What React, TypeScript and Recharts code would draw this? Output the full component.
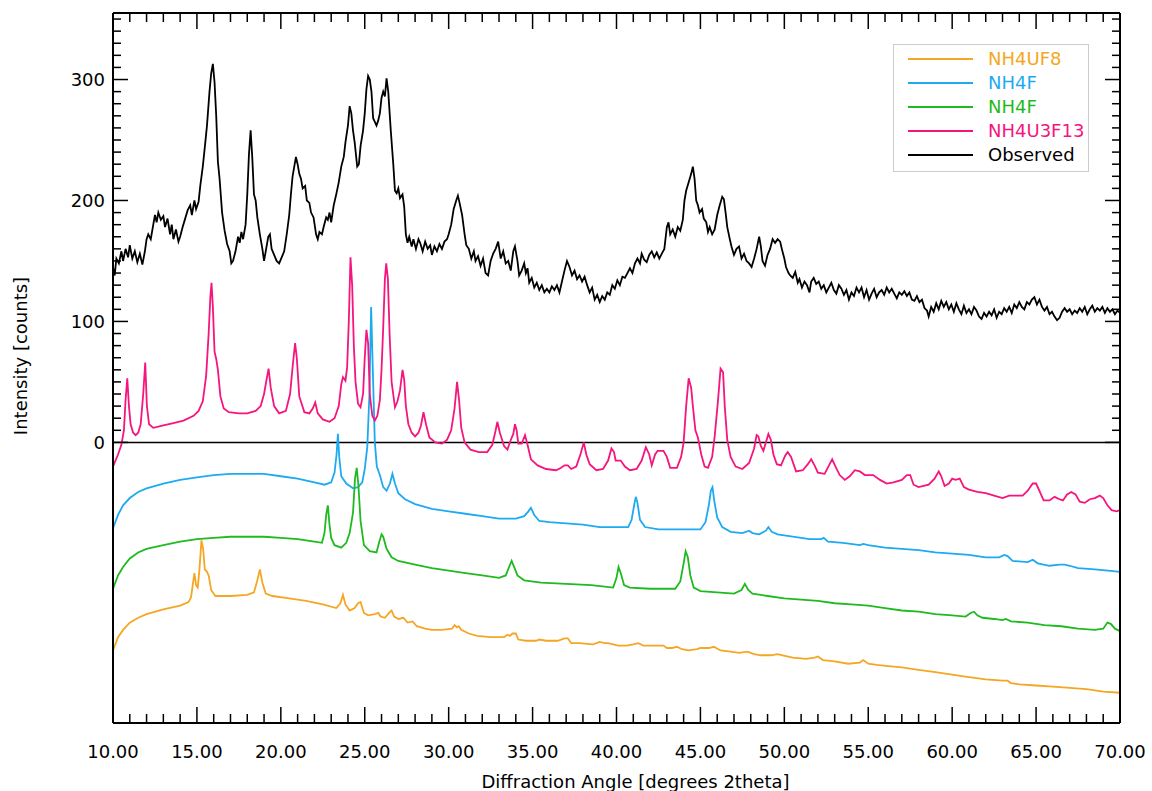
import React from "react";
import { Legend, Line, LineChart, ReferenceLine, XAxis, YAxis } from "recharts";

type Pt = [number, number];

const FONT = "DejaVu Sans";

// series labels and colours (legend order)
const seriesNames = ["NH4UF8", "NH4F", "NH4F", "NH4U3F13", "Observed"];
const seriesColors = ["#f5a623", "#1daaf1", "#1fba1f", "#f5157d", "#000000"];

const xTicks: number[] = [];
for (let v = 10; v <= 70; v += 1) xTicks.push(v);
const yTicks: number[] = [];
for (let v = 0; v <= 350; v += 10) yTicks.push(v);

const observedPts: Pt[] = [
  [10.0, 145], [10.1, 138], [10.2, 152], [10.35, 148], [10.5, 158], [10.6, 150], [10.75, 160], [10.9, 153],
  [11.0, 163], [11.15, 152], [11.3, 158], [11.45, 149], [11.6, 156], [11.75, 147], [11.9, 158], [12.0, 168],
  [12.1, 172], [12.25, 168], [12.4, 180], [12.5, 188], [12.6, 182], [12.7, 190], [12.85, 184], [13.0, 187],
  [13.1, 178], [13.25, 185], [13.4, 172], [13.5, 180], [13.6, 168], [13.75, 176], [13.9, 166], [14.0, 170],
  [14.15, 178], [14.3, 185], [14.45, 192], [14.6, 196], [14.7, 188], [14.85, 200], [14.95, 193], [15.1, 199],
  [15.2, 212], [15.35, 228], [15.5, 248], [15.6, 262], [15.75, 290], [15.85, 305], [15.95, 313], [16.05, 298],
  [16.15, 270], [16.25, 232], [16.35, 218], [16.5, 190], [16.65, 175], [16.8, 164], [16.95, 158], [17.05, 148],
  [17.15, 150], [17.3, 158], [17.45, 170], [17.55, 165], [17.65, 174], [17.75, 168], [17.9, 180], [18.0, 205],
  [18.1, 238], [18.2, 258], [18.3, 235], [18.4, 205], [18.5, 200], [18.6, 186], [18.75, 172], [18.9, 160],
  [19.0, 150], [19.1, 158], [19.25, 170], [19.35, 172], [19.45, 160], [19.6, 155], [19.75, 150], [19.9, 148],
  [20.05, 153], [20.2, 158], [20.35, 172], [20.5, 188], [20.6, 205], [20.7, 220], [20.8, 228], [20.9, 236],
  [21.0, 230], [21.1, 222], [21.2, 218], [21.3, 210], [21.45, 212], [21.55, 200], [21.7, 198], [21.8, 190],
  [21.95, 186], [22.1, 172], [22.2, 168], [22.3, 174], [22.45, 172], [22.55, 178], [22.7, 186], [22.8, 184],
  [22.9, 190], [23.0, 182], [23.15, 196], [23.3, 205], [23.45, 215], [23.6, 228], [23.75, 236], [23.85, 248],
  [24.0, 262], [24.1, 278], [24.2, 272], [24.3, 258], [24.4, 248], [24.55, 228], [24.65, 230], [24.75, 245],
  [24.9, 258], [25.0, 272], [25.1, 292], [25.2, 303], [25.3, 300], [25.4, 290], [25.5, 268], [25.6, 265],
  [25.7, 262], [25.8, 266], [25.9, 272], [26.0, 285], [26.1, 290], [26.2, 286], [26.3, 301], [26.4, 290],
  [26.55, 258], [26.7, 230], [26.8, 208], [26.9, 206], [27.0, 210], [27.1, 202], [27.25, 205], [27.35, 195],
  [27.45, 172], [27.55, 165], [27.65, 170], [27.8, 162], [27.9, 168], [28.05, 160], [28.2, 168], [28.3, 165],
  [28.45, 158], [28.6, 166], [28.75, 160], [28.9, 163], [29.0, 155], [29.15, 162], [29.3, 158], [29.45, 164],
  [29.6, 160], [29.75, 166], [29.9, 168], [30.0, 172], [30.15, 180], [30.3, 193], [30.45, 200], [30.55, 204],
  [30.65, 198], [30.8, 188], [30.95, 172], [31.05, 163], [31.2, 160], [31.35, 152], [31.5, 158], [31.6, 150],
  [31.75, 154], [31.9, 146], [32.05, 152], [32.2, 140], [32.35, 138], [32.5, 150], [32.65, 156], [32.8, 160],
  [32.95, 166], [33.1, 152], [33.25, 158], [33.4, 148], [33.55, 150], [33.7, 142], [33.85, 158], [33.95, 162],
  [34.1, 150], [34.2, 138], [34.35, 142], [34.5, 148], [34.6, 140], [34.7, 144], [34.8, 132], [34.95, 136],
  [35.1, 128], [35.25, 132], [35.4, 126], [35.55, 130], [35.7, 124], [35.85, 127], [36.0, 124], [36.15, 129],
  [36.3, 126], [36.45, 130], [36.6, 124], [36.75, 133], [36.9, 142], [37.05, 150], [37.2, 145], [37.35, 138],
  [37.5, 142], [37.65, 135], [37.8, 138], [37.95, 133], [38.1, 137], [38.25, 130], [38.4, 124], [38.55, 128],
  [38.7, 118], [38.85, 122], [39.0, 116], [39.15, 121], [39.3, 118], [39.45, 124], [39.6, 122], [39.75, 130],
  [39.9, 127], [40.05, 134], [40.2, 130], [40.35, 137], [40.5, 136], [40.65, 140], [40.8, 144], [40.95, 140],
  [41.1, 148], [41.25, 152], [41.4, 148], [41.5, 156], [41.65, 151], [41.8, 149], [41.95, 155], [42.1, 158],
  [42.25, 153], [42.4, 157], [42.55, 152], [42.7, 156], [42.85, 160], [43.0, 178], [43.1, 182], [43.2, 172],
  [43.35, 176], [43.5, 170], [43.65, 178], [43.8, 175], [43.95, 184], [44.05, 200], [44.15, 208], [44.3, 215],
  [44.45, 222], [44.55, 228], [44.65, 218], [44.75, 200], [44.85, 196], [44.95, 190], [45.1, 193], [45.2, 185],
  [45.35, 182], [45.45, 174], [45.55, 178], [45.7, 172], [45.85, 176], [46.0, 188], [46.15, 196], [46.3, 203],
  [46.4, 201], [46.5, 190], [46.6, 178], [46.75, 168], [46.85, 162], [47.0, 155], [47.15, 160], [47.3, 162],
  [47.45, 152], [47.6, 156], [47.75, 150], [47.9, 148], [48.05, 145], [48.2, 152], [48.35, 160], [48.5, 170],
  [48.6, 162], [48.7, 150], [48.85, 146], [49.0, 155], [49.15, 160], [49.3, 168], [49.45, 165], [49.6, 168],
  [49.75, 166], [49.85, 160], [50.0, 152], [50.1, 145], [50.25, 140], [50.35, 138], [50.5, 136], [50.65, 141],
  [50.8, 132], [50.9, 135], [51.05, 128], [51.2, 133], [51.35, 130], [51.5, 124], [51.6, 133], [51.75, 136],
  [51.9, 131], [52.05, 133], [52.2, 127], [52.35, 130], [52.5, 124], [52.65, 128], [52.8, 132], [52.95, 126],
  [53.1, 123], [53.25, 130], [53.4, 127], [53.55, 122], [53.7, 126], [53.85, 118], [54.0, 124], [54.15, 121],
  [54.3, 128], [54.45, 124], [54.6, 128], [54.75, 120], [54.9, 126], [55.05, 118], [55.2, 123], [55.35, 127],
  [55.5, 120], [55.65, 124], [55.8, 126], [55.95, 122], [56.1, 128], [56.25, 124], [56.4, 127], [56.55, 123],
  [56.7, 119], [56.85, 124], [57.0, 122], [57.15, 125], [57.3, 121], [57.45, 124], [57.6, 118], [57.75, 117],
  [57.9, 121], [58.05, 116], [58.2, 118], [58.35, 111], [58.5, 109], [58.6, 104], [58.75, 112], [58.9, 108],
  [59.05, 115], [59.2, 110], [59.35, 117], [59.5, 112], [59.65, 116], [59.8, 110], [59.95, 114], [60.1, 108],
  [60.25, 115], [60.4, 110], [60.55, 106], [60.7, 113], [60.85, 107], [61.0, 110], [61.15, 106], [61.3, 112],
  [61.45, 109], [61.6, 104], [61.75, 102], [61.9, 107], [62.05, 104], [62.2, 108], [62.35, 105], [62.5, 110],
  [62.65, 103], [62.8, 108], [62.95, 106], [63.1, 111], [63.25, 108], [63.4, 112], [63.55, 107], [63.7, 114],
  [63.85, 111], [64.0, 116], [64.15, 112], [64.3, 110], [64.45, 116], [64.6, 114], [64.75, 118], [64.9, 120],
  [65.05, 114], [65.2, 118], [65.35, 112], [65.5, 109], [65.65, 112], [65.8, 106], [65.95, 108], [66.1, 104],
  [66.25, 101], [66.4, 103], [66.55, 108], [66.7, 111], [66.85, 108], [67.0, 110], [67.15, 106], [67.3, 109],
  [67.45, 107], [67.6, 111], [67.75, 108], [67.9, 112], [68.05, 106], [68.2, 110], [68.35, 113], [68.5, 108],
  [68.65, 111], [68.8, 109], [68.95, 112], [69.1, 107], [69.25, 111], [69.4, 108], [69.55, 110], [69.7, 106],
  [69.85, 109], [70.0, 107],
];

const nh4u3f13Pts: Pt[] = [
  [10.0, -20], [10.3, -10], [10.5, -2], [10.65, 10], [10.75, 35], [10.85, 53], [10.95, 30], [11.05, 15],
  [11.2, 8], [11.35, 6], [11.5, 8], [11.65, 15], [11.8, 40], [11.92, 66], [12.02, 30], [12.15, 15],
  [12.4, 12], [13.0, 14], [13.6, 16], [14.2, 18], [14.8, 22], [15.1, 26], [15.35, 34], [15.55, 55],
  [15.7, 90], [15.8, 120], [15.87, 132], [15.95, 112], [16.05, 75], [16.15, 69], [16.25, 60], [16.4, 38],
  [16.6, 28], [16.9, 25], [17.5, 24], [18.0, 24], [18.5, 26], [18.8, 30], [19.0, 40], [19.15, 52],
  [19.27, 61], [19.4, 45], [19.6, 30], [19.9, 24], [20.3, 26], [20.55, 40], [20.72, 65], [20.85, 82],
  [20.95, 70], [21.1, 38], [21.4, 25], [21.7, 24], [21.9, 28], [22.05, 33], [22.2, 24], [22.5, 19],
  [22.9, 17], [23.2, 20], [23.45, 30], [23.6, 48], [23.7, 54], [23.85, 51], [23.95, 62], [24.05, 100],
  [24.15, 153], [24.25, 130], [24.35, 80], [24.45, 50], [24.6, 32], [24.75, 29], [24.9, 40], [25.0, 70],
  [25.1, 93], [25.2, 82], [25.3, 40], [25.45, 22], [25.6, 18], [25.75, 22], [25.9, 35], [26.0, 60],
  [26.1, 95], [26.2, 135], [26.28, 148], [26.38, 135], [26.48, 90], [26.6, 50], [26.8, 29], [26.95, 34],
  [27.1, 43], [27.25, 60], [27.35, 52], [27.45, 30], [27.6, 15], [27.8, 8], [28.0, 5], [28.2, 8],
  [28.35, 14], [28.5, 25], [28.65, 15], [28.85, 4], [29.2, 0], [29.6, -1], [29.9, 2], [30.15, 10],
  [30.35, 28], [30.5, 50], [30.62, 35], [30.75, 12], [30.95, 0], [31.3, -6], [31.8, -8], [32.3, -8],
  [32.6, -2], [32.8, 10], [32.9, 17], [33.05, 8], [33.3, -3], [33.5, -6], [33.7, 2], [33.85, 7],
  [33.95, 15], [34.05, 10], [34.15, -1], [34.35, -1], [34.55, 6], [34.7, -2], [34.9, -14], [35.3, -19],
  [35.8, -22], [36.4, -23], [36.7, -21], [36.9, -19], [37.1, -19], [37.3, -22], [37.6, -20], [37.85, -10],
  [38.05, 0], [38.2, -10], [38.4, -18], [38.8, -23], [39.2, -22], [39.5, -15], [39.7, -5], [39.85, -8],
  [39.95, -15], [40.25, -15], [40.5, -20], [40.8, -23], [41.2, -22], [41.5, -15], [41.75, -4], [41.95, -10],
  [42.1, -19], [42.3, -10], [42.45, -7], [42.8, -7], [43.0, -12], [43.2, -21], [43.6, -21], [43.85, -12],
  [44.0, 0], [44.15, 30], [44.3, 53], [44.45, 45], [44.55, 30], [44.7, 10], [44.85, 4], [45.05, -10],
  [45.25, -20], [45.45, -21], [45.7, -12], [45.85, 5], [46.05, 35], [46.2, 61], [46.35, 58], [46.45, 30],
  [46.6, 2], [46.8, -12], [47.1, -20], [47.5, -22], [47.9, -17], [48.2, -5], [48.35, 6], [48.45, 5],
  [48.6, -3], [48.75, -7], [48.9, 0], [49.05, 7], [49.2, 2], [49.35, -10], [49.55, -18], [49.8, -19],
  [50.05, -11], [50.2, -8], [50.4, -12], [50.7, -24], [51.1, -23], [51.4, -18], [51.6, -14], [51.8, -19],
  [52.0, -25], [52.4, -26], [52.7, -18], [52.85, -14], [53.05, -20], [53.3, -27], [53.6, -31], [53.9, -28],
  [54.2, -23], [54.5, -24], [54.8, -27], [55.3, -27], [55.7, -31], [56.1, -34], [56.5, -33], [57.0, -31],
  [57.3, -27], [57.5, -27], [57.7, -35], [58.0, -37], [58.6, -35], [58.95, -30], [59.2, -24], [59.35, -28],
  [59.55, -36], [59.8, -34], [60.0, -30], [60.2, -31], [60.45, -30], [60.7, -37], [61.0, -39], [61.5, -41],
  [62.0, -42], [62.5, -44], [63.0, -46], [63.4, -44], [63.8, -44], [64.2, -44], [64.5, -40], [64.8, -34],
  [65.0, -34], [65.2, -40], [65.45, -48], [65.8, -48], [66.1, -45], [66.4, -47], [66.6, -48], [66.85, -43],
  [67.1, -41], [67.35, -43], [67.6, -49], [67.9, -50], [68.2, -47], [68.5, -46], [68.8, -44], [69.0, -46],
  [69.25, -52], [69.5, -56], [69.8, -57], [70.0, -56],
];

const nh4fBluePts: Pt[] = [
  [10.0, -71], [10.3, -60], [10.6, -52], [11.0, -46], [11.5, -41], [12.0, -38], [13.0, -34], [14.0, -31],
  [15.0, -29], [16.0, -27], [17.0, -26], [18.0, -26], [19.0, -26], [20.0, -28], [21.0, -30], [22.0, -33],
  [22.6, -35], [23.0, -33], [23.2, -25], [23.32, -10], [23.4, 7], [23.48, -12], [23.6, -28], [23.9, -34],
  [24.3, -38], [24.6, -37], [24.85, -33], [25.0, -22], [25.15, -4], [25.28, 40], [25.38, 112], [25.48, 60],
  [25.6, 0], [25.72, -20], [25.9, -27], [26.1, -37], [26.3, -40], [26.5, -34], [26.65, -26], [26.8, -34],
  [27.0, -42], [27.4, -47], [28.0, -51], [29.0, -55], [30.0, -57], [31.0, -59], [32.0, -61], [33.0, -63],
  [34.0, -63], [34.5, -61], [34.75, -57], [34.9, -54], [35.1, -60], [35.4, -65], [36.0, -66], [37.0, -67],
  [38.0, -68], [39.0, -70], [40.0, -70], [40.7, -70], [40.9, -64], [41.05, -52], [41.15, -45], [41.25, -50],
  [41.4, -64], [41.7, -70], [42.5, -72], [43.5, -72], [44.5, -72], [45.0, -72], [45.3, -66], [45.5, -52],
  [45.62, -40], [45.72, -37], [45.82, -48], [46.0, -62], [46.3, -70], [46.8, -74], [47.5, -75], [47.9, -73],
  [48.1, -75], [48.5, -76], [48.9, -73], [49.05, -70], [49.25, -74], [49.6, -76], [50.5, -78], [51.5, -80],
  [52.2, -80], [52.35, -79], [52.6, -82], [53.5, -83], [54.5, -85], [54.7, -84], [55.0, -85], [56.0, -87],
  [57.0, -88], [58.0, -89], [59.0, -91], [60.0, -92], [61.0, -93], [62.0, -95], [62.8, -95], [63.1, -93],
  [63.3, -94], [63.6, -98], [64.5, -99], [64.8, -97], [65.1, -100], [65.8, -102], [66.4, -101], [66.7, -101],
  [67.0, -102], [67.5, -104], [68.5, -105], [69.3, -106], [70.0, -107],
];

const nh4fGreenPts: Pt[] = [
  [10.0, -121], [10.3, -110], [10.6, -103], [11.0, -96], [11.5, -91], [12.0, -88], [13.0, -85], [14.0, -82],
  [15.0, -80], [16.0, -79], [17.0, -78], [18.0, -78], [19.0, -78], [20.0, -79], [21.0, -80], [22.0, -82],
  [22.45, -83], [22.6, -75], [22.7, -60], [22.8, -52], [22.9, -68], [23.0, -79], [23.2, -85], [23.6, -87],
  [23.9, -83], [24.1, -75], [24.3, -58], [24.42, -30], [24.52, -21], [24.62, -35], [24.75, -65], [24.95, -85],
  [25.3, -90], [25.7, -91], [25.85, -83], [26.0, -76], [26.1, -78], [26.3, -88], [26.6, -95], [27.0, -98],
  [28.0, -101], [29.0, -104], [30.0, -106], [31.0, -108], [32.0, -110], [33.0, -112], [33.4, -110], [33.6, -103],
  [33.75, -98], [33.9, -103], [34.1, -110], [34.5, -114], [35.5, -116], [37.0, -117], [38.5, -118], [39.8, -120],
  [40.0, -112], [40.12, -103], [40.25, -108], [40.45, -118], [40.8, -120], [42.0, -121], [43.5, -121], [43.8, -115],
  [44.0, -100], [44.12, -90], [44.25, -95], [44.4, -110], [44.6, -120], [45.0, -123], [46.0, -124], [47.0, -125],
  [47.45, -122], [47.65, -117], [47.85, -122], [48.1, -125], [49.0, -127], [50.0, -129], [51.0, -130], [52.0, -131],
  [53.0, -133], [54.0, -134], [55.0, -135], [56.0, -137], [57.0, -139], [58.0, -140], [59.0, -142], [60.0, -143],
  [60.8, -144], [61.1, -141], [61.3, -140], [61.5, -143], [61.8, -145], [62.5, -146], [63.0, -147], [63.2, -146],
  [63.5, -148], [64.5, -149], [65.5, -151], [66.5, -152], [67.5, -154], [68.5, -155], [69.0, -154], [69.25, -149],
  [69.45, -150], [69.7, -154], [70.0, -156],
];

const nh4uf8Pts: Pt[] = [
  [10.0, -172], [10.3, -161], [10.6, -155], [11.0, -149], [11.5, -145], [12.0, -142], [13.0, -138], [14.0, -135],
  [14.5, -132], [14.65, -128], [14.75, -118], [14.85, -108], [14.95, -118], [15.05, -120], [15.15, -105], [15.27, -81],
  [15.37, -88], [15.47, -105], [15.6, -107], [15.7, -110], [15.85, -122], [16.1, -127], [17.0, -127], [18.0, -126],
  [18.4, -124], [18.6, -114], [18.75, -105], [18.9, -116], [19.1, -125], [19.5, -127], [20.5, -129], [21.5, -131],
  [22.5, -134], [23.3, -137], [23.55, -133], [23.7, -126], [23.85, -134], [24.1, -139], [24.4, -137], [24.6, -133],
  [24.75, -132], [24.95, -141], [25.2, -143], [25.6, -142], [25.8, -141], [25.95, -144], [26.2, -145], [26.45, -141],
  [26.6, -139], [26.75, -144], [27.0, -146], [27.3, -145], [27.55, -149], [27.85, -148], [28.1, -152], [28.6, -154],
  [29.0, -155], [29.6, -155], [30.2, -154], [30.35, -151], [30.5, -153], [30.6, -152], [30.75, -155], [31.2, -158],
  [31.7, -160], [32.5, -161], [33.3, -161], [33.5, -159], [33.65, -160], [33.8, -158], [34.0, -158], [34.15, -163],
  [34.6, -164], [35.2, -164], [35.4, -163], [35.8, -164], [36.5, -164], [36.9, -162], [37.1, -162], [37.3, -166],
  [37.8, -166], [38.6, -167], [39.0, -165], [39.3, -166], [39.5, -166], [40.1, -168], [40.6, -168], [41.0, -167],
  [41.3, -166], [41.6, -168], [42.2, -168], [42.8, -168], [43.0, -170], [43.3, -170], [43.6, -169], [43.9, -171],
  [44.3, -172], [44.8, -171], [45.0, -170], [45.5, -170], [45.8, -169], [46.2, -172], [46.8, -173], [47.3, -174],
  [47.8, -173], [48.2, -175], [48.6, -176], [49.2, -176], [49.6, -175], [49.9, -176], [50.5, -178], [51.3, -179],
  [51.8, -178], [52.0, -177], [52.3, -180], [53.0, -181], [53.8, -183], [54.5, -182], [54.7, -180], [55.0, -183],
  [55.5, -184], [56.2, -185], [57.0, -186], [58.0, -188], [59.0, -190], [60.0, -192], [61.0, -194], [62.0, -196],
  [63.0, -197], [63.3, -197], [63.5, -199], [64.0, -200], [65.0, -201], [66.0, -202], [67.0, -203], [68.0, -204],
  [69.0, -206], [70.0, -207],
];

const toRows = (pts: Pt[]) => pts.map(([x, y]) => ({ x, y }));

// drawing order: references first, observed on top
const series = [
  { name: seriesNames[0], color: seriesColors[0], rows: toRows(nh4uf8Pts) },
  { name: seriesNames[1], color: seriesColors[1], rows: toRows(nh4fBluePts) },
  { name: seriesNames[2], color: seriesColors[2], rows: toRows(nh4fGreenPts) },
  { name: seriesNames[3], color: seriesColors[3], rows: toRows(nh4u3f13Pts) },
  { name: seriesNames[4], color: seriesColors[4], rows: toRows(observedPts) },
];

function BottomTick(props: any) {
  const { x, y, payload } = props;
  const major = payload.value % 5 === 0;
  return (
    <g>
      <line x1={x} x2={x} y1={y} y2={y - (major ? 16 : 9)} stroke="#000" strokeWidth={1.5} />
      {major && (
        <text x={x} y={y + 35} textAnchor="middle" fontSize={18} fontFamily={FONT} fill="#000">
          {payload.value.toFixed(2)}
        </text>
      )}
    </g>
  );
}

function TopTick(props: any) {
  const { x, y, payload } = props;
  const major = payload.value % 5 === 0;
  return <line x1={x} x2={x} y1={y} y2={y + (major ? 16 : 9)} stroke="#000" strokeWidth={1.5} />;
}

function LeftTick(props: any) {
  const { x, y, payload } = props;
  const major = payload.value % 100 === 0;
  return (
    <g>
      <line x1={x} x2={x + (major ? 15 : 8)} y1={y} y2={y} stroke="#000" strokeWidth={1.5} />
      {major && (
        <text x={x - 8} y={y + 6.5} textAnchor="end" fontSize={18} fontFamily={FONT} fill="#000">
          {payload.value}
        </text>
      )}
    </g>
  );
}

function RightTick(props: any) {
  const { x, y, payload } = props;
  const major = payload.value % 100 === 0;
  return <line x1={x} x2={x - (major ? 15 : 8)} y1={y} y2={y} stroke="#000" strokeWidth={1.5} />;
}

function XTitle(props: any) {
  const vb = props.viewBox;
  return (
    <text x={vb.x + vb.width / 2 + 19} y={vb.y + 65} textAnchor="middle" fontSize={18} fontFamily={FONT} fill="#000">
      Diffraction Angle [degrees 2theta]
    </text>
  );
}

function YTitle() {
  return (
    <text
      x={20}
      y={356}
      transform="rotate(-90 20 356)"
      textAnchor="middle"
      dominantBaseline="central"
      fontSize={18}
      fontFamily={FONT}
      fill="#000"
    >
      Intensity [counts]
    </text>
  );
}

function LegendBox() {
  return (
    <div
      style={{
        width: 196,
        height: 128,
        boxSizing: "border-box",
        border: "1px solid #cccccc",
        background: "#fff",
        paddingTop: 2,
        fontFamily: FONT,
        fontSize: 18,
      }}
    >
      {seriesNames.map((name, i) => (
        <div key={i} style={{ display: "flex", alignItems: "center", height: 24 }}>
          <div style={{ marginLeft: 14, width: 65, height: 2, background: seriesColors[i] }} />
          <span style={{ marginLeft: 15, color: seriesColors[i], lineHeight: "24px" }}>{name}</span>
        </div>
      ))}
    </div>
  );
}

export default function App() {
  return (
    <div style={{ position: "fixed", left: 0, top: 0, width: 1152, height: 791, background: "#fff" }}>
      <LineChart width={1152} height={791} margin={{ top: 0, right: 0, bottom: 0, left: 0 }}>
        <XAxis
          xAxisId="bottom"
          dataKey="x"
          type="number"
          domain={[10, 70]}
          ticks={xTicks}
          interval={0}
          allowDataOverflow
          height={68}
          tickSize={0}
          tickMargin={0}
          tick={<BottomTick />}
          axisLine={{ stroke: "#000", strokeWidth: 2 }}
          label={<XTitle />}
        />
        <XAxis
          xAxisId="top"
          orientation="top"
          dataKey="x"
          type="number"
          domain={[10, 70]}
          ticks={xTicks}
          interval={0}
          allowDataOverflow
          height={13}
          tickSize={0}
          tickMargin={0}
          tick={<TopTick />}
          axisLine={{ stroke: "#000", strokeWidth: 2 }}
        />
        <YAxis
          yAxisId="left"
          type="number"
          domain={[-232, 355]}
          ticks={yTicks}
          interval={0}
          allowDataOverflow
          width={113}
          tickSize={0}
          tickMargin={0}
          tick={<LeftTick />}
          axisLine={{ stroke: "#000", strokeWidth: 2 }}
          label={<YTitle />}
        />
        <YAxis
          yAxisId="right"
          orientation="right"
          type="number"
          domain={[-232, 355]}
          ticks={yTicks}
          interval={0}
          allowDataOverflow
          width={32}
          tickSize={0}
          tickMargin={0}
          tick={<RightTick />}
          axisLine={{ stroke: "#000", strokeWidth: 2 }}
        />
        <ReferenceLine xAxisId="bottom" yAxisId="left" y={0} stroke="#000" strokeWidth={1.5} />
        {series.map((s, i) => (
          <Line
            key={i}
            xAxisId="bottom"
            yAxisId="left"
            data={s.rows}
            dataKey="y"
            name={s.name}
            type="linear"
            stroke={s.color}
            strokeWidth={1.8}
            dot={false}
            activeDot={false}
            isAnimationActive={false}
          />
        ))}
        <Legend
          layout="vertical"
          align="center"
          verticalAlign="middle"
          wrapperStyle={{ left: 893, top: 44, width: 196 }}
          content={<LegendBox />}
        />
      </LineChart>
    </div>
  );
}
